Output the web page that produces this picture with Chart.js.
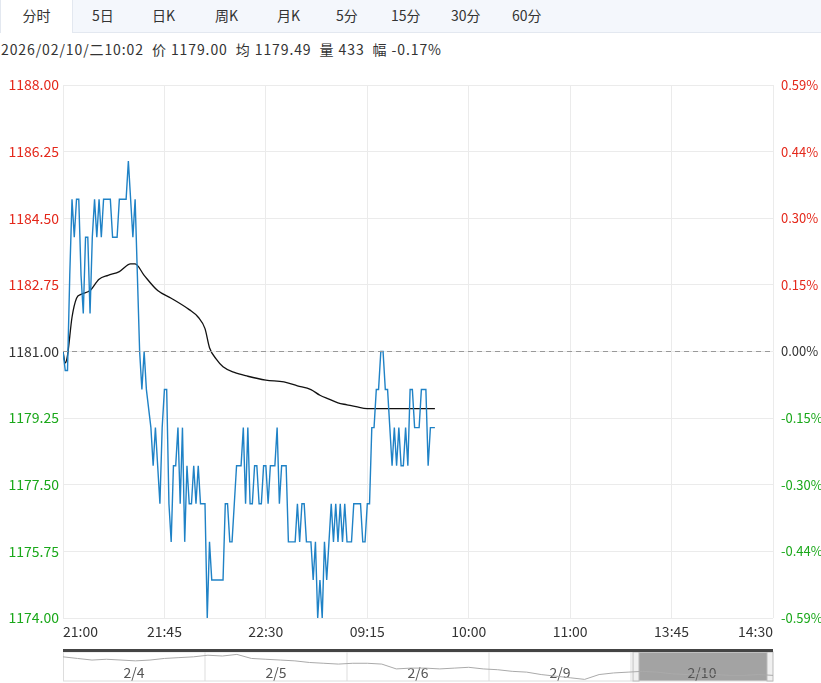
<!DOCTYPE html>
<html>
<head>
<meta charset="utf-8">
<script src="https://cdn.jsdelivr.net/npm/chart.js@4"></script>
<style>
  body { margin: 0; width: 821px; height: 683px; background: #fff; font-family: "Noto Sans CJK SC", sans-serif; overflow: hidden; position: relative; }
  .tabs { position: absolute; left: 0; top: 0; width: 821px; height: 32px; background: #f4f7fc; border-bottom: 1px solid #e3e8f0; }
  .tab { position: absolute; top: 0; height: 32px; line-height: 30px; font-size: 14px; color: #333; }
  .tab.active { background: #fff; border-left: 1px solid #e3e8f0; border-right: 1px solid #e3e8f0; height: 33px; }
  .info { position: absolute; left: 1px; top: 39px; font-size: 14px; color: #333; white-space: pre; font-family: "Noto Sans CJK SC", sans-serif; letter-spacing: 0.9px; }
  #main { position: absolute; left: 0; top: 70px; }
  #nav { position: absolute; left: 0; top: 645px; }
</style>
</head>
<body>
<div class="tabs" id="tabs"></div>
<div class="info">2026/02/10/二10:02  价 1179.00  均 1179.49  量 433  幅 -0.17%</div>
<canvas id="main" width="821" height="575"></canvas>
<canvas id="nav" width="821" height="38"></canvas>
<script>
// tab bar
const tabNames = ['分时', '5日', '日K', '周K', '月K', '5分', '15分', '30分', '60分'];
const tabX = [13, 92, 152, 215, 277, 336, 391, 451, 512];

// time axis
const timeLabels = ['21:00', '21:45', '22:30', '09:15', '10:00', '11:00', '13:45', '14:30'];
const minutesPerTick = 45;

// price data (one point per minute)
const prices = [
  1181, 1180.5, 1180.5, 1183, 1185, 1184, 1185, 1185, 1183, 1182,
  1184, 1184, 1182, 1184, 1185, 1184, 1185, 1184, 1185, 1185,
  1185, 1185, 1184, 1184, 1184, 1185, 1185, 1185, 1185, 1186,
  1185, 1184, 1185, 1183, 1181, 1180, 1181, 1180, 1179.5, 1179,
  1178, 1179, 1178, 1177, 1179, 1180, 1180, 1177, 1176, 1178,
  1178, 1179, 1177, 1179, 1176, 1178, 1177, 1177, 1178, 1177,
  1178, 1177, 1177, 1177, 1174, 1176, 1175, 1175, 1175, 1175,
  1175, 1175, 1177, 1177, 1176, 1176, 1177, 1178, 1178, 1178,
  1179, 1177, 1179, 1177, 1177, 1178, 1178, 1177, 1177, 1178,
  1178, 1177, 1178, 1178, 1178, 1179, 1177, 1178, 1178, 1178,
  1176, 1176, 1176, 1176, 1177, 1176, 1177, 1177, 1176, 1176,
  1176, 1175, 1176, 1174, 1175, 1174, 1176, 1175, 1176, 1177,
  1176, 1177, 1176, 1177, 1176, 1177, 1176, 1176, 1176, 1177,
  1177, 1177, 1177, 1176, 1176, 1177, 1177, 1179, 1179, 1180,
  1180, 1181, 1181, 1180, 1180, 1179, 1178, 1179, 1178, 1179,
  1178, 1178, 1179, 1178, 1180, 1180, 1179, 1179, 1179, 1180,
  1180, 1180, 1178, 1179, 1179, 1179
];

// average price line, read at selected minutes
const avgMinutes = [0, 1, 2, 4, 6, 8, 12, 16, 20, 25, 30, 32, 36, 42, 48, 56, 60, 63, 65, 68, 71, 76, 82, 90, 98, 104, 110, 114, 118, 122, 126, 130, 135, 140, 150, 165];
const avgValues = [1181, 1180.7, 1180.9, 1181.9, 1182.4, 1182.5, 1182.6, 1182.9, 1183, 1183.1, 1183.3, 1183.3, 1183.0, 1182.6, 1182.4, 1182.1, 1181.9, 1181.6, 1181.1, 1180.8, 1180.6, 1180.45, 1180.35, 1180.25, 1180.2, 1180.1, 1180.0, 1179.85, 1179.75, 1179.65, 1179.6, 1179.55, 1179.5, 1179.5, 1179.5, 1179.5];

const prevClose = 1181;
const yMin = 1174, yMax = 1188, yStep = 1.75;

// navigator mini line (5 trading days)
const navDays = ['2/4', '2/5', '2/6', '2/9', '2/10'];
const navValues = [
  1183, 1182, 1181, 1181.5, 1181, 1180.5, 1181, 1182, 1182.5, 1183, 1184, 1183.5, 1184.5,
  1182, 1181.5, 1181, 1180.5, 1179.5, 1179, 1178.5, 1179, 1179, 1178.5,
  1175.5, 1176, 1176, 1175.5, 1176, 1176.5, 1175.5, 1175, 1174, 1173.5,
  1172, 1171, 1170, 1169, 1172, 1173, 1173.5, 1174, 1173.5, 1172.5, 1172,
  1173, 1172, 1171.5, 1171.5, 1172, 1171.5
];

const tabs = document.getElementById('tabs');
tabNames.forEach((t, i) => {
  const d = document.createElement('div');
  d.className = 'tab' + (i === 0 ? ' active' : '');
  d.textContent = t;
  d.style.left = (i === 0 ? 0 : tabX[i]) + 'px';
  if (i === 0) { d.style.width = '71px'; d.style.textAlign = 'center'; }
  tabs.appendChild(d);
});

const totalMinutes = minutesPerTick * (timeLabels.length - 1);
const upColor = '#e4281b', downColor = '#1aa81a';
const tickColor = v => Math.abs(v - prevClose) < 1e-6 ? '#333' : (v > prevClose ? upColor : downColor);
const fontFamily = '"Noto Sans CJK SC", "Noto Sans", sans-serif';

const timeLabelPlugin = {
  id: 'timeLabels',
  afterDraw(chart) {
    const { ctx, scales: { x, y } } = chart;
    ctx.save();
    ctx.font = '14px ' + fontFamily;
    ctx.fillStyle = '#333';
    ctx.textBaseline = 'top';
    timeLabels.forEach((t, i) => {
      const px = x.getPixelForValue(i * minutesPerTick);
      ctx.textAlign = i === 0 ? 'left' : (i === timeLabels.length - 1 ? 'right' : 'center');
      ctx.fillText(t, px, y.bottom + 7);
    });
    ctx.restore();
  }
};

new Chart(document.getElementById('main'), {
  type: 'line',
  data: {
    datasets: [
      {
        data: [{ x: 0, y: prevClose }, { x: totalMinutes, y: prevClose }],
        borderColor: '#999', borderWidth: 1, borderDash: [5, 4], pointRadius: 0
      },
      {
        data: prices.map((p, i) => ({ x: i, y: p })),
        borderColor: '#1f82c6', borderWidth: 1.4, pointRadius: 0, tension: 0
      },
      {
        data: avgMinutes.map((m, i) => ({ x: m, y: avgValues[i] })),
        borderColor: '#111', borderWidth: 1.3, pointRadius: 0, cubicInterpolationMode: 'monotone'
      }
    ]
  },
  options: {
    animation: false,
    responsive: false,
    layout: { padding: { top: 15 } },
    plugins: { legend: { display: false }, tooltip: { enabled: false } },
    scales: {
      x: {
        type: 'linear', min: 0, max: totalMinutes,
        afterFit: s => { s.height = 27; },
        grid: { color: '#ebebeb', drawTicks: false },
        border: { display: false },
        ticks: { stepSize: minutesPerTick, display: false }
      },
      y: {
        position: 'left', min: yMin, max: yMax,
        afterBuildTicks: s => { s.ticks = []; for (let v = yMin; v <= yMax + 1e-6; v += yStep) s.ticks.push({ value: v }); },
        afterFit: s => { s.width = 63; },
        grid: { color: '#ebebeb', drawTicks: false },
        border: { display: false },
        ticks: {
          padding: 4,
          font: { size: 14, family: fontFamily },
          color: c => tickColor(c.tick.value),
          callback: v => v.toFixed(2)
        }
      },
      y2: {
        position: 'right', min: yMin, max: yMax,
        afterBuildTicks: s => { s.ticks = []; for (let v = yMin; v <= yMax + 1e-6; v += yStep) s.ticks.push({ value: v }); },
        afterFit: s => { s.width = 48; },
        grid: { display: false },
        border: { display: false },
        ticks: {
          padding: 0,
          font: { size: 13, family: fontFamily },
          color: c => tickColor(c.tick.value),
          callback: v => ((v - prevClose) / prevClose * 100).toFixed(2) + '%'
        }
      }
    }
  },
  plugins: [timeLabelPlugin]
});

// navigator
const navPlugin = {
  id: 'navDecor',
  beforeDatasetsDraw(chart) {
    const { ctx, chartArea: a } = chart;
    ctx.save();
    ctx.fillStyle = '#fff';
    ctx.fillRect(a.left, a.top, a.right - a.left, a.bottom - a.top);
    const w = (a.right - a.left) / navDays.length;
    // selected range
    ctx.fillStyle = '#a3a3a3';
    ctx.fillRect(a.left + 4 * w + 8, a.top, w - 14, a.bottom - a.top);
    ctx.strokeStyle = '#ddd';
    ctx.lineWidth = 1;
    for (let i = 1; i < navDays.length; i++) {
      ctx.beginPath(); ctx.moveTo(a.left + i * w, a.top); ctx.lineTo(a.left + i * w, a.bottom); ctx.stroke();
    }
    ctx.strokeRect(a.left + 0.5, a.top, a.right - a.left - 1, a.bottom - a.top);
    ctx.fillStyle = '#f0f0f0';
    ctx.strokeStyle = '#bbb';
    [a.left + 4 * w + 2, a.right - 6].forEach(hx => { ctx.fillRect(hx, a.top, 6, a.bottom - a.top); ctx.strokeRect(hx, a.top, 6, a.bottom - a.top); });
    ctx.font = '14px ' + fontFamily;
    ctx.fillStyle = '#555';
    ctx.textAlign = 'center';
    ctx.textBaseline = 'middle';
    navDays.forEach((d, i) => ctx.fillText(d, a.left + (i + 0.5) * w, a.top + 21));
    ctx.fillStyle = '#444';
    ctx.fillRect(a.left, a.top - 3, a.right - a.left, 3);
    ctx.restore();
  }
};

new Chart(document.getElementById('nav'), {
  type: 'line',
  data: {
    labels: navValues.map((_, i) => i),
    datasets: [{ data: navValues, borderColor: '#aaa', borderWidth: 1, pointRadius: 0, fill: false }]
  },
  options: {
    animation: false,
    responsive: false,
    layout: { padding: { top: 7, left: 63, right: 48, bottom: 2 } },
    plugins: { legend: { display: false }, tooltip: { enabled: false } },
    scales: {
      x: { display: false, offset: false },
      y: { display: false, min: 1168, max: 1186 }
    }
  },
  plugins: [navPlugin]
});
</script>
</body>
</html>
